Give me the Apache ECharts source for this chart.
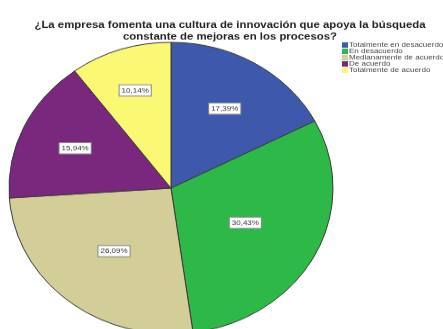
<!DOCTYPE html>
<html>
<head>
<meta charset="utf-8">
<script src="https://cdn.jsdelivr.net/npm/echarts@6/dist/echarts.min.js"></script>
<style>
html,body{margin:0;padding:0;background:#fff;overflow:hidden;}
#wrap{width:443px;height:329px;overflow:hidden;}
#chart{width:443px;height:366px;transform:scaleY(0.9);transform-origin:0 0;}
</style>
</head>
<body>
<div id="wrap"><div id="chart"></div></div>
<script>
const titleText = '¿La empresa fomenta una cultura de innovación que apoya la búsqueda\nconstante de mejoras en los procesos?';
const categories = ['Totalmente en desacuerdo', 'En desacuerdo', 'Medianamente de acuerdo', 'De acuerdo', 'Totalmente de acuerdo'];
const percents = [17.39, 30.43, 26.09, 15.94, 10.14];
const colors = ['#3E58AC', '#2EB848', '#D3CE97', '#79287D', '#FBF873'];

const CX = 171, CY = 209, R = 162;
const chart = echarts.init(document.getElementById('chart'), null, {renderer: 'canvas'});
chart.setOption({
  animation: false,
  backgroundColor: '#ffffff',
  color: colors,
  title: {
    text: titleText,
    left: 225,
    textAlign: 'center',
    top: 17,
    textStyle: {fontFamily: 'Liberation Sans, Arial, sans-serif', fontSize: 11.4, fontWeight: 'bold', color: '#222', lineHeight: 12.5}
  },
  legend: {
    orient: 'vertical',
    left: 337,
    top: 41,
    itemWidth: 6,
    itemHeight: 6,
    itemGap: -1.0,
    icon: 'rect',
    itemStyle: {borderWidth: 0},
    data: categories,
    textStyle: {fontFamily: 'Liberation Sans, Arial, sans-serif', fontSize: 8, color: '#444', padding: [0, 0, 0, -4], lineHeight: 5}
  },
  series: [{
    type: 'pie',
    center: [CX, CY],
    radius: [0, R],
    startAngle: 90,
    clockwise: true,
    avoidLabelOverlap: false,
    itemStyle: {borderColor: '#3a3a3a', borderWidth: 1},
    label: {
      show: true,
      position: 'inside',
      formatter: p => p.value.toFixed(2).replace('.', ',') + '%',
      fontFamily: 'Liberation Sans, Arial, sans-serif',
      fontSize: 8,
      color: '#333',
      backgroundColor: '#ffffff',
      borderColor: '#888',
      borderWidth: 1,
      padding: [2, 2, 1.5, 2]
    },
    labelLayout: function (p) {
      const lx = p.labelRect.x + p.labelRect.width / 2;
      const ly = p.labelRect.y + p.labelRect.height / 2;
      const cur = Math.hypot(lx - CX, ly - CY);
      const d = R * (0.8 - 0.0093 * percents[p.dataIndex]);
      const k = d / cur - 1;
      return {dx: (lx - CX) * k, dy: (ly - CY) * k};
    },
    emphasis: {disabled: true},
    data: categories.map((c, i) => ({name: c, value: percents[i]}))
  }]
});
</script>
</body>
</html>
